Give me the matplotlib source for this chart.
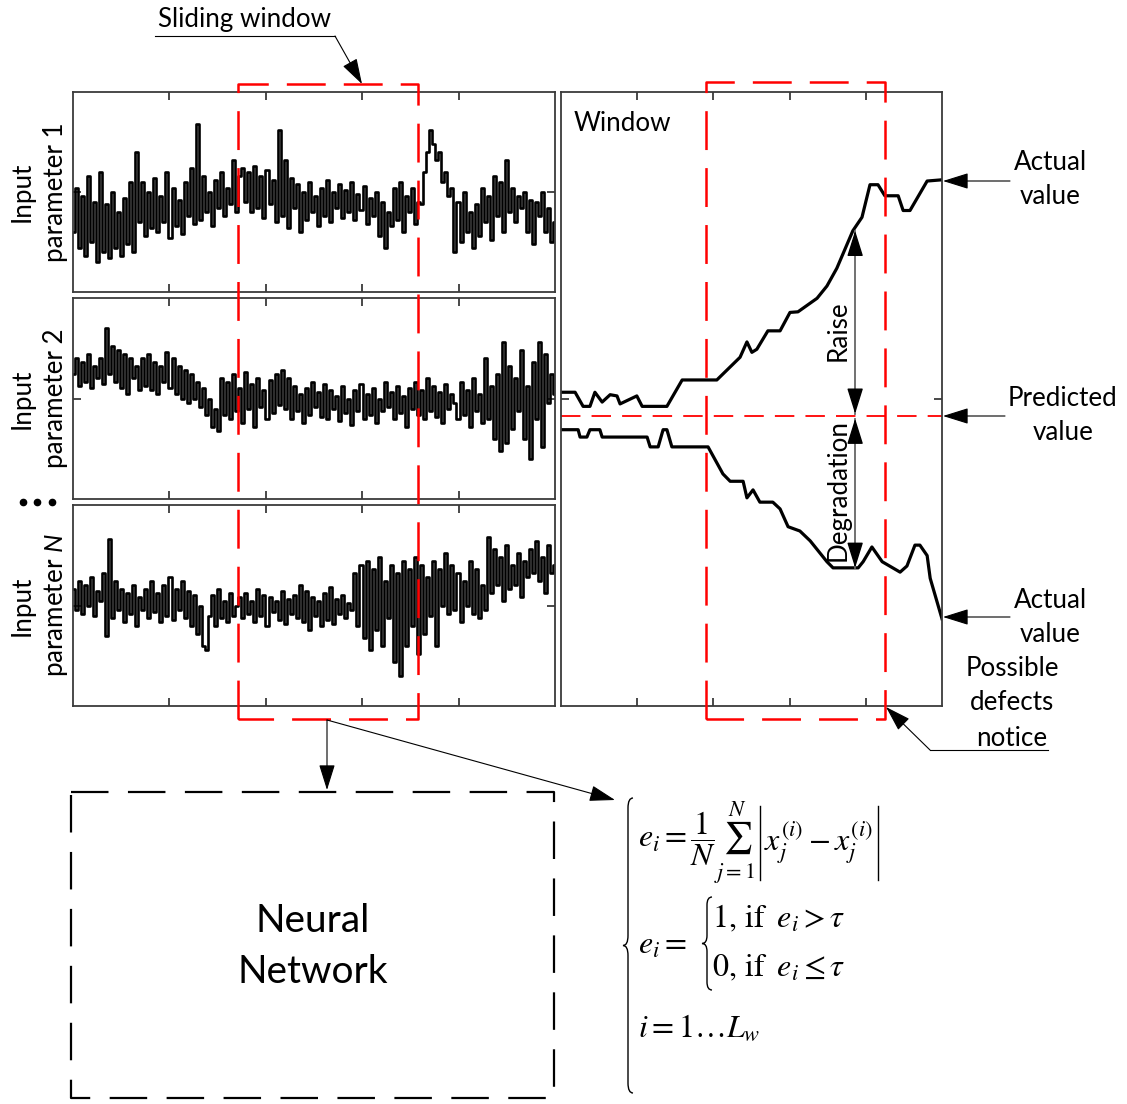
import numpy as np
import matplotlib
matplotlib.use('Agg')
import matplotlib.pyplot as plt
import matplotlib.transforms as mtransforms
from matplotlib.path import Path
from matplotlib.patches import PathPatch

W, H = 1127, 1104

# input parameters (0..100 scale)
param1 = [30, 52, 22, 48, 18, 58, 25, 45, 15, 60, 20, 44, 17, 50, 22, 40, 18, 47, 24, 55, 20,
          70, 35, 55, 28, 50, 32, 57, 30, 48, 35, 60, 27, 52, 33, 46, 29, 55, 38, 62, 34, 84, 36,
          58, 40, 50, 33, 56, 42, 60, 38, 52, 44, 66, 40, 58,
          62, 45, 60, 40, 63, 42, 58, 37, 61, 44, 56, 35, 81, 38, 66, 32, 57, 42, 54, 30, 50, 36,
          55, 40, 48, 33, 52, 38, 56, 35, 50, 42, 54, 37, 51, 40, 55, 36, 49, 41, 53, 34, 47, 38,
          50, 28, 45, 22, 40, 33, 52, 36, 55, 30, 48, 40, 52, 34, 45, 44,
          60, 70, 81, 74, 66, 70, 55, 60, 48, 52,
          20, 45, 25, 50, 30, 40, 22, 44, 28, 52, 35, 48, 26, 58, 38, 55, 30, 66, 40, 52, 35, 48,
          42, 50, 30, 46, 24, 45, 38, 50, 30, 42, 25, 35]
param2 = [62, 70, 56, 68, 58, 72, 55, 66, 60, 70, 57,
          85, 62, 76, 58, 74, 55, 72, 52, 70, 60, 66, 54,
          70, 56, 72, 54, 68, 52, 66, 58, 73, 55, 70, 52, 66, 50, 64, 48, 62, 50, 58, 46,
          55, 42, 50, 36, 45, 34,
          60, 42, 58, 40, 62, 44, 55, 38, 63, 45, 57, 36, 60, 46, 54, 40, 59, 43, 62, 47, 64, 45,
          60, 40, 56, 44, 52, 38, 55, 42, 58, 46, 53, 41, 57, 40, 54, 45, 51, 39, 56, 43, 50, 37,
          54, 44, 57, 40, 52, 42, 55, 38, 50, 44, 58, 46, 53, 40, 56, 43, 51, 36, 55, 45, 58, 42,
          54, 40, 60, 44, 56, 41, 53, 38, 57, 45, 52,
          48, 40, 58, 42, 54, 36, 60, 44, 52, 38, 70, 40, 56, 30, 62, 24, 78, 28, 66, 35, 60, 44,
          74, 30, 56, 20, 68, 40, 78, 26, 72, 48, 62, 52]
paramN = [58, 48, 62, 46, 60, 50, 64, 45, 57, 52, 66, 35, 83, 44, 62, 48, 58, 42, 56, 46, 60,
          40, 54, 48, 58, 44, 62, 47, 56, 42, 60, 45, 64, 43, 58, 48, 62, 44, 57, 40, 55, 36, 50,
          30, 28, 45, 55, 40, 58, 44, 52, 42, 56, 45, 50,
          54, 44, 56, 46, 52, 42, 58, 45, 55, 40, 54, 47, 52, 43, 57, 41, 53, 46, 55, 44, 60, 42,
          57, 38, 54, 45, 52, 40, 56, 43, 59, 41, 53, 46, 55, 44, 51,
          48, 66, 40, 70, 34, 72, 28, 68, 38, 74, 30, 62, 44, 70, 22, 66, 15, 72, 30, 68, 40, 74,
          26, 70, 36, 64, 45, 72, 30, 68, 50, 76, 46, 70, 48, 66, 42, 62, 50, 72, 46, 68, 44, 60, 48,
          84, 56, 78, 60, 74, 52, 80, 58, 70, 60, 76, 54, 72, 64, 78, 66, 82, 62, 74, 56, 80, 66, 70]
input_labels = ['parameter 1', 'parameter 2', r'parameter $N$']

# window panel: actual value curves (time, value)
raise_t = [0, 3.7, 5.8, 7.6, 8.9, 10.8, 12.9, 14.7, 15.5, 19.9, 21.3, 27.8, 31.8, 40.9, 47.0,
           48.8, 50.1, 51.4, 54.3, 57.5, 60.1, 62.2, 67.2, 69.8, 72.4, 76.6, 79.0, 81.1, 83.2,
           85.0, 88.5, 89.8, 91.6, 96.1, 100]
raise_v = [51.1, 51.1, 48.8, 48.8, 51.1, 49.5, 50.7, 50.5, 49.2, 50.5, 48.8, 48.8, 53.1, 53.1,
           56.8, 59.3, 57.6, 58.1, 61.1, 61.1, 64.1, 64.2, 66.4, 68.4, 71.3, 77.4, 79.6, 84.9,
           84.9, 83.1, 83.1, 80.7, 80.7, 85.5, 85.7]
degrade_t = [0, 4.5, 5.0, 6.8, 7.6, 10.2, 10.8, 22.6, 23.4, 25.5, 26.8, 27.8, 29.1, 38.6, 42.5,
             44.4, 47.8, 48.8, 50.4, 52.2, 55.6, 57.5, 59.6, 62.7, 65.4, 69.8, 71.4, 78.0, 79.3,
             81.6, 84.3, 89.0, 90.8, 92.9, 94.2, 96.1, 96.9, 100]
degrade_v = [45.0, 45.0, 43.8, 43.8, 45.0, 45.0, 43.8, 43.8, 42.2, 42.2, 45.0, 45.0, 42.2, 42.2,
             37.8, 36.6, 36.6, 33.9, 35.2, 33.2, 33.2, 32.1, 29.2, 28.5, 26.9, 23.5, 22.5, 22.5,
             23.5, 25.9, 23.5, 21.8, 22.8, 26.2, 26.2, 24.5, 20.8, 14.2]
predicted = 47.2
window_ticks = [20, 40, 60, 80]
sliding_window = (34.2, 71.6)
defect_window = (38.1, 85.0)

plt.rcParams['font.family'] = 'Lato'
plt.rcParams['mathtext.fontset'] = 'custom'
plt.rcParams['mathtext.it'] = 'Lato:italic'
plt.rcParams['mathtext.rm'] = 'Lato'
plt.rcParams['lines.scale_dashes'] = False

fig = plt.figure(figsize=(W / 100, H / 100), dpi=100)


def px_axes(x0, y0, x1, y1, **kw):
    return fig.add_axes([x0 / W, 1 - y1 / H, (x1 - x0) / W, (y1 - y0) / H], **kw)


base = px_axes(0, 0, W, H)
base.set_xlim(0, W)
base.set_ylim(H, 0)
base.axis('off')

spine_col = '#3a3a3a'


def style_panel(ax):
    for s in ax.spines.values():
        s.set_color(spine_col)
        s.set_linewidth(1.3)
    ax.set_xlim(0, 100)
    ax.set_ylim(0, 100)
    ax.set_xticks(window_ticks)
    ax.set_yticks([50])
    ax.tick_params(direction='in', length=6, width=1.3, color=spine_col, top=True, right=True,
                   labelbottom=False, labelleft=False)


LBL = 18.7
panel_boxes = [(73, 92, 555, 292), (73, 298, 555, 499), (73, 505, 555, 706)]
left_axes = []
for (x0, y0, x1, y1), vals, lab in zip(panel_boxes, [param1, param2, paramN], input_labels):
    ax = px_axes(x0, y0, x1, y1)
    style_panel(ax)
    t = np.linspace(0, 100, len(vals))
    ax.plot(t, vals, color='black', lw=1.9, drawstyle='steps-mid')
    cy = (y0 + y1) / 2
    base.text(22, cy, 'Input', rotation=90, ha='center', va='center', fontsize=LBL)
    base.text(56, cy, lab, rotation=90, ha='center', va='center', fontsize=LBL)
    left_axes.append(ax)

base.plot([23, 37, 52], [502, 502, 502], 'ko', ms=4.5)

# window panel
axr = px_axes(561, 92, 942, 706)
style_panel(axr)
axr.plot(raise_t, raise_v, color='black', lw=2.3)
axr.plot(degrade_t, degrade_v, color='black', lw=2.3)
axr.axhline(predicted, color='red', lw=1.3, dashes=(14, 8))
axr.text(3.4, 94.8, 'Window', ha='left', va='center', fontsize=LBL)

head = dict(arrowstyle='-|>,head_length=0.8,head_width=0.25', color='black', lw=1.0,
            mutation_scale=20, shrinkA=0, shrinkB=0)
for top_v, bot_v in [(77.4, 47.6), (46.8, 22.5)]:
    axr.plot([77.2, 77.2], [top_v, bot_v], color='#666666', lw=1.3)
    axr.annotate('', xy=(77.2, top_v), xytext=(77.2, top_v - 2.5), arrowprops=head)
    axr.annotate('', xy=(77.2, bot_v), xytext=(77.2, bot_v + 2.5), arrowprops=head)
axr.text(72.7, 61.2, 'Raise', rotation=90, ha='center', va='center', fontsize=LBL)
axr.text(72.7, 35.2, 'Degradation', rotation=90, ha='center', va='center', fontsize=LBL)

# overlay: windows, arrows, notes
top = px_axes(0, 0, W, H, zorder=5)
top.set_xlim(0, W)
top.set_ylim(H, 0)
top.axis('off')


def window_rect(ax, span, ytop, ybot):
    tr = mtransforms.blended_transform_factory(ax.transData, top.transData)
    t0, t1 = span
    top.plot([t0, t0, t1, t1, t0], [ybot, ytop, ytop, ybot, ybot], transform=tr,
             color='red', lw=1.8, dashes=(28, 13))


window_rect(left_axes[0], sliding_window, 84, 719)
window_rect(axr, defect_window, 82, 719)

arr1 = dict(arrowstyle='-|>,head_length=0.8,head_width=0.25', color='black', lw=0.8,
            mutation_scale=20, shrinkA=0, shrinkB=0)


def arrow(x0, y0, x1, y1):
    top.annotate('', xy=(x1, y1), xytext=(x0, y0), arrowprops=arr1)


def lines(x, ys, texts, size=LBL):
    for y, s in zip(ys, texts):
        top.text(x, y, s, ha='center', va='center', fontsize=size)


lines(245, [19], ['Sliding window'])
top.plot([155, 335], [36, 36], color='black', lw=0.8)
arrow(335, 36, 362, 84)

lines(1050, [163, 197], ['Actual', 'value'])
arrow(1010, 181, 943, 181)
lines(1063, [399, 433], ['Predicted', 'value'])
arrow(1005, 416, 943, 416)
lines(1050, [601, 635], ['Actual', 'value'])
arrow(1010, 617, 943, 617)
lines(1012, [668, 703, 738], ['Possible', 'defects', 'notice'])
top.plot([930, 1048], [750, 750], color='black', lw=0.8)
arrow(930, 750, 886, 707)

arrow(327, 720, 327, 790)
arrow(327, 720, 615, 800)

# neural network box
top.plot([71, 554, 554, 71, 71], [792, 792, 1098, 1098, 792], color='black', lw=1.6,
         dashes=(27, 14))
lines(313, [921, 972], ['Neural', 'Network'], size=28)


def brace(x, y0, y1, w, r):
    ym = (y0 + y1) / 2
    verts = [(x + w, y0), (x, y0), (x, y0 + r), (x, ym - r), (x, ym), (x - w, ym),
             (x, ym), (x, ym + r), (x, y1 - r), (x, y1), (x + w, y1)]
    codes = [Path.MOVETO, Path.CURVE3, Path.CURVE3, Path.LINETO, Path.CURVE3, Path.CURVE3,
             Path.CURVE3, Path.CURVE3, Path.LINETO, Path.CURVE3, Path.CURVE3]
    top.add_patch(PathPatch(Path(verts, codes), fill=False, lw=1.0, color='black'))


brace(628, 798, 1093, 5, 10)
brace(707, 897, 990, 5, 8)

FS = 23
mt = dict(ha='left', va='center', fontsize=FS, math_fontfamily='stix')
renderer = fig.canvas.get_renderer()

# first line, absolute-value bars drawn as thin rules
part1 = top.text(638, 843, r'$e_i = \dfrac{1}{N}\sum_{j=1}^{N}$', **mt)
x_end = part1.get_window_extent(renderer).x1
bar1 = x_end + 5
top.plot([bar1, bar1], [806, 880], color='black', lw=1.0)
part2 = top.text(bar1 + 4, 843, r'$x_j^{(i)} - x_j^{(i)}$', **mt)
bar2 = part2.get_window_extent(renderer).x1 + 5
top.plot([bar2, bar2], [806, 880], color='black', lw=1.0)

top.text(638, 945, r'$e_i =$', **mt)
top.text(712, 918, r'$1,\,\mathrm{if}\;\; e_i > \tau$', **mt)
top.text(712, 968, r'$0,\,\mathrm{if}\;\; e_i \leq \tau$', **mt)
top.text(638, 1028, r'$i = 1 \ldots L_w$', **mt)

fig.savefig('out.png', dpi=100)
